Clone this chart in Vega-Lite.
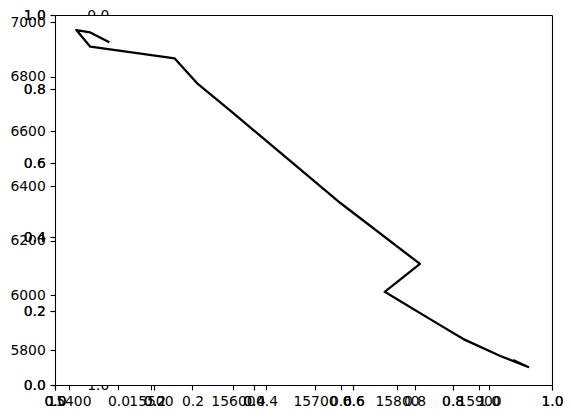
{
  "$schema": "https://vega.github.io/schema/vega-lite/v6.json",
  "width": 497,
  "height": 370,
  "autosize": {"type": "none"},
  "padding": {"left": 55, "top": 15, "right": 19, "bottom": 33},
  "background": "white",
  "config": {
    "view": {"stroke": null},
    "axis": {
      "grid": false,
      "title": null,
      "labelFont": "DejaVu Sans",
      "labelFontSize": 13.9,
      "labelColor": "black",
      "tickColor": "black",
      "tickWidth": 1.1,
      "tickSize": 4.86,
      "labelPadding": 4.86,
      "domainColor": "black",
      "domainWidth": 1.1,
      "labelFlush": false,
      "labelOverlap": false,
      "labelBound": false
    }
  },
  "resolve": {
    "scale": {"x": "independent", "y": "independent"},
    "axis": {"x": "independent", "y": "independent"}
  },
  "layer": [
    {
      "data": {"values": [{"x0": 0, "x1": 1, "y0": 0, "y1": 1}]},
      "mark": {"type": "rect", "fill": "white"},
      "encoding": {
        "x": {"field": "x0", "type": "quantitative", "scale": {"domain": [0, 1], "nice": false, "zero": false},
              "axis": {"orient": "top", "labels": false, "ticks": false, "domain": true, "zindex": 1, "title": null}},
        "x2": {"field": "x1"},
        "y": {"field": "y0", "type": "quantitative", "scale": {"domain": [0, 1], "nice": false, "zero": false},
              "axis": {"orient": "right", "labels": false, "ticks": false, "domain": true, "zindex": 1, "title": null}},
        "y2": {"field": "y1"}
      }
    },
    {
      "data": {"values": [{"c": 0}, {"c": 1}]},
      "mark": {"type": "point", "opacity": 0},
      "encoding": {
        "x": {"field": "c", "type": "quantitative", "scale": {"domain": [-0.1716, 1.1716], "nice": false, "zero": false},
              "axis": {"orient": "bottom", "values": [0, 0.2, 0.4, 0.6, 0.8, 1.0], "format": ".1f", "domain": false, "zindex": 1, "title": null}},
        "y": {"field": "c", "type": "quantitative", "scale": {"domain": [0, 1], "nice": false, "zero": false, "reverse": true},
              "axis": {"orient": "left", "offset": -63.5, "values": [0, 1], "format": ".1f", "domain": false, "tickOpacity": 0, "zindex": 0, "title": null}}
      }
    },
    {
      "data": {"values": [{"a": 0}, {"a": 1}]},
      "mark": {"type": "point", "opacity": 0},
      "encoding": {
        "x": {"field": "a", "type": "quantitative", "scale": {"domain": [0, 1], "nice": false, "zero": false},
              "axis": {"orient": "bottom", "values": [0, 0.2, 0.4, 0.6, 0.8, 1.0], "format": ".1f", "domain": false, "zindex": 1, "title": null}},
        "y": {"field": "a", "type": "quantitative", "scale": {"domain": [0, 1], "nice": false, "zero": false},
              "axis": {"orient": "left", "values": [0, 0.2, 0.4, 0.6, 0.8, 1.0], "format": ".1f", "domain": true, "zindex": 1, "title": null}}
      }
    },
    {
      "data": {"values": [{"a": 0}, {"a": 1}]},
      "mark": {"type": "point", "opacity": 0},
      "encoding": {
        "x": {"field": "a", "type": "quantitative", "scale": {"domain": [0, 1], "nice": false, "zero": false},
              "axis": {"orient": "bottom", "values": [0, 0.2, 0.4, 0.6, 0.8, 1.0], "format": ".1f", "domain": false, "zindex": 1, "title": null}},
        "y": {"field": "a", "type": "quantitative", "scale": {"domain": [0, 1], "nice": false, "zero": false},
              "axis": {"orient": "left", "values": [0, 0.2, 0.4, 0.6, 0.8, 1.0], "format": ".1f", "domain": false, "zindex": 1, "title": null}}
      }
    },
    {
      "data": {"values": [
        {"i": 1, "x": 15448, "y": 6928},
        {"i": 2, "x": 15426, "y": 6962},
        {"i": 3, "x": 15409, "y": 6971},
        {"i": 4, "x": 15426, "y": 6910},
        {"i": 5, "x": 15529, "y": 6867},
        {"i": 6, "x": 15556, "y": 6777},
        {"i": 7, "x": 15596, "y": 6678},
        {"i": 8, "x": 15731, "y": 6338},
        {"i": 9, "x": 15828, "y": 6115},
        {"i": 10, "x": 15785, "y": 6013},
        {"i": 11, "x": 15852, "y": 5892},
        {"i": 12, "x": 15883, "y": 5837},
        {"i": 13, "x": 15926, "y": 5778},
        {"i": 14, "x": 15960, "y": 5738},
        {"i": 15, "x": 15943, "y": 5762}
      ]},
      "mark": {"type": "line", "color": "black", "strokeWidth": 2.3, "strokeJoin": "round", "strokeCap": "square"},
      "encoding": {
        "x": {"field": "x", "type": "quantitative", "scale": {"domain": [15383, 15989], "nice": false, "zero": false},
              "axis": {"orient": "bottom", "values": [15400, 15500, 15600, 15700, 15800, 15900], "format": "d", "domain": true, "zindex": 1, "title": null}},
        "y": {"field": "y", "type": "quantitative", "scale": {"domain": [5672, 7026], "nice": false, "zero": false},
              "axis": {"orient": "left", "values": [5800, 6000, 6200, 6400, 6600, 6800, 7000], "format": "d", "domain": false, "zindex": 1, "title": null}},
        "order": {"field": "i", "type": "quantitative"}
      }
    }
  ]
}
